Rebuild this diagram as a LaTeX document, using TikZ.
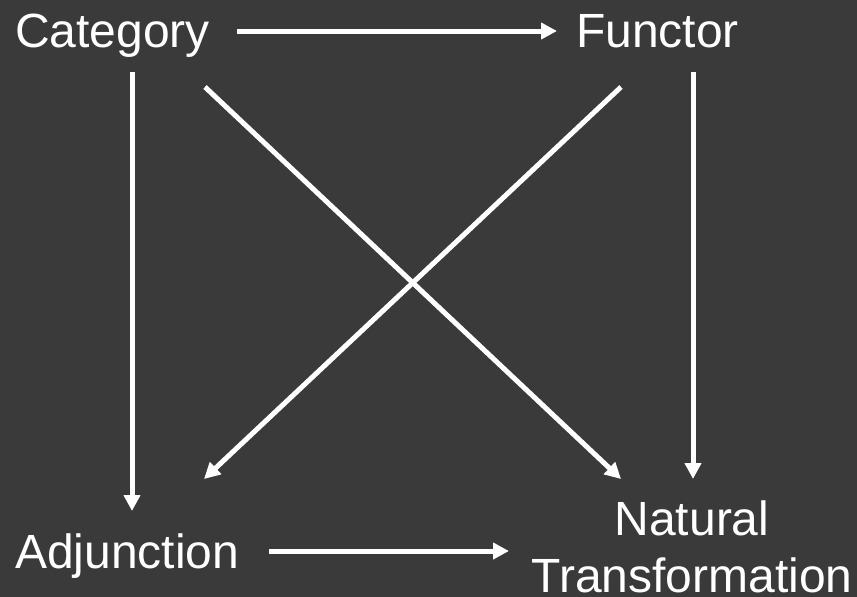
\documentclass[tikz,border=0pt]{standalone}
\usepackage{fontspec}
\setmainfont{Liberation Sans}
\usetikzlibrary{arrows.meta}
\definecolor{bgdark}{HTML}{3A3A3A}
\tikzset{
  lbl/.style={text=white, inner sep=0pt, outer sep=0pt, font=\fontsize{48}{57}\selectfont},
  conn/.style={draw=white, line width=5pt, -{Triangle[length=16pt,width=16pt]}}
}
\begin{document}
\begin{tikzpicture}[x=1pt, y=-1pt]
  \fill[bgdark] (0,0) rectangle (857,597);
  \useasboundingbox (0,0) rectangle (857,597);
  % nodes
  \node[lbl, anchor=base west] (cat) at (15,47) {Category};
  \node[lbl, anchor=base west] (fun) at (576,47) {Functor};
  \node[lbl, anchor=base west] (adj) at (15,568) {Adjunction};
  \node[lbl, anchor=base, align=center] (nat) at (692,592) {Natural\\Transformation};
  % connector ends
  \coordinate (catR) at (237,31);
  \coordinate (funL) at (557,31);
  \coordinate (catB) at (132,72);
  \coordinate (catD) at (205,87);
  \coordinate (funD) at (621,87);
  \coordinate (funB) at (693,72);
  \coordinate (adjT) at (132,511);
  \coordinate (adjU) at (204,479);
  \coordinate (adjR) at (269,551);
  \coordinate (natU) at (621,479);
  \coordinate (natT) at (693,479);
  \coordinate (natL) at (509,551);
  % connectors
  \draw[conn] (catR) -- (funL);
  \draw[conn] (catB) -- (adjT);
  \draw[conn] (catD) -- (natU);
  \draw[conn] (funD) -- (adjU);
  \draw[conn] (funB) -- (natT);
  \draw[conn] (adjR) -- (natL);
\end{tikzpicture}
\end{document}
